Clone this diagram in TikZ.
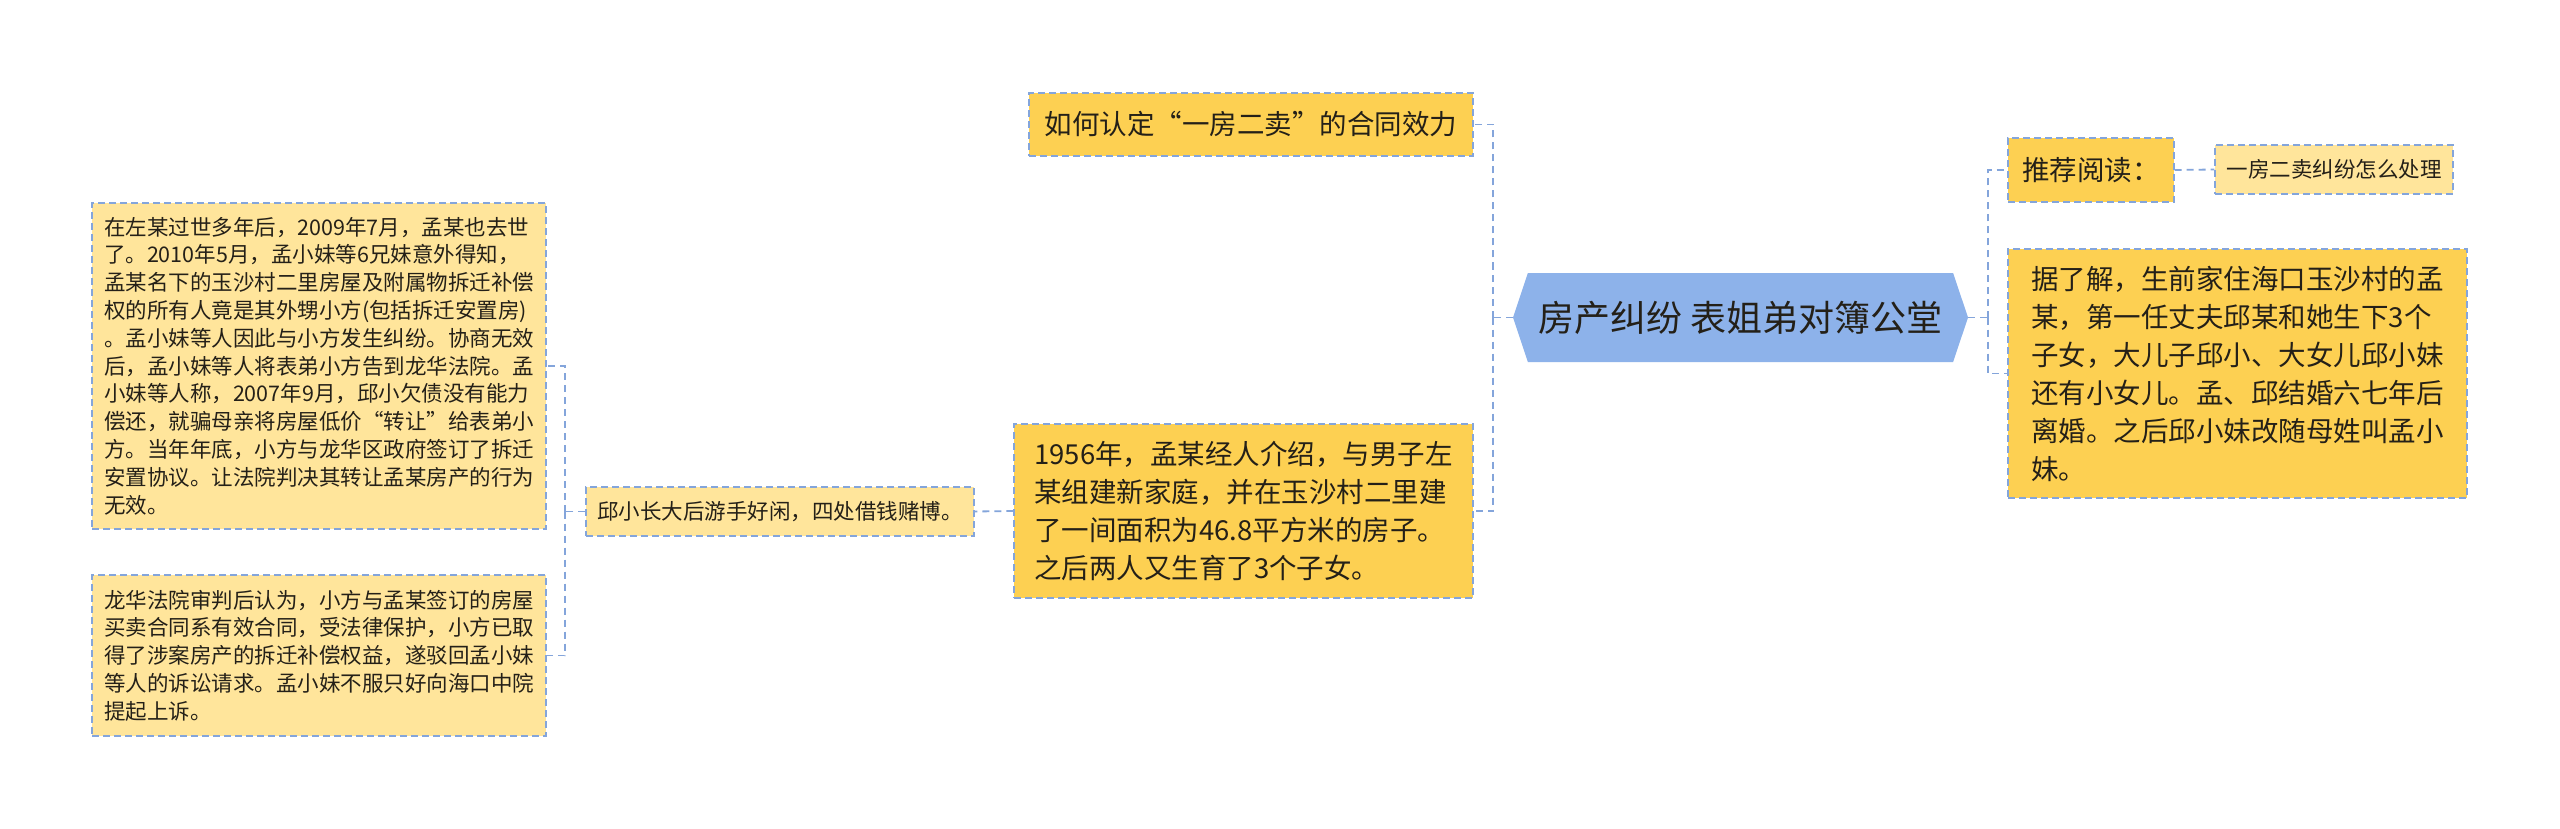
\documentclass[tikz,border=0pt]{standalone}
\usepackage{fontspec}
\setmainfont{Noto Sans CJK SC}
\usetikzlibrary{shapes.symbols}
\definecolor{gold}{RGB}{253,208,82}
\definecolor{pale}{RGB}{255,229,155}
\definecolor{edge}{RGB}{132,165,219}
\definecolor{rootblue}{RGB}{141,178,234}
\definecolor{ink}{RGB}{36,32,24}

\begin{document}
\begin{tikzpicture}[x=1pt,y=-1pt,
  box/.style={draw=edge,line width=1.4pt,dash pattern=on 7pt off 4pt,text=ink,align=left,inner sep=0pt},
  big/.style={box,fill=gold,font=\fontsize{27.5}{38}\selectfont},
  small/.style={box,fill=pale,font=\fontsize{21.5}{27.8}\selectfont},
  conn/.style={draw=edge,line width=1.8pt,dash pattern=on 7pt off 5pt}]
  \useasboundingbox[fill=white](0,0) rectangle (2560,829);
  % centre
  \node[signal,signal to=west and east,signal pointer angle=143,fill=rootblue,text=ink,
        minimum width=455,minimum height=89,inner sep=0pt,font=\fontsize{36}{40}\selectfont]
        (root) at (1740.5,317.5) {房产纠纷 表姐弟对簿公堂};
  % left branch
  \node[big,minimum width=444,minimum height=63] (q1) at (1251,124.5) {如何认定“一房二卖”的合同效力};
  \node[big,minimum width=459,minimum height=174] (story) at (1243.5,511) {1956年，孟某经人介绍，与男子左\\某组建新家庭，并在玉沙村二里建\\了一间面积为46.8平方米的房子。\\之后两人又生育了3个子女。};
  \node[small,minimum width=388,minimum height=49] (qiu) at (780,511.5) {邱小长大后游手好闲，四处借钱赌博。};
  \node[small,minimum width=454,minimum height=326] (sue) at (319,366) {在左某过世多年后，2009年7月，孟某也去世\\了。2010年5月，孟小妹等6兄妹意外得知，\\孟某名下的玉沙村二里房屋及附属物拆迁补偿\\权的所有人竟是其外甥小方(包括拆迁安置房)\\。孟小妹等人因此与小方发生纠纷。协商无效\\后，孟小妹等人将表弟小方告到龙华法院。孟\\小妹等人称，2007年9月，邱小欠债没有能力\\偿还，就骗母亲将房屋低价“转让”给表弟小\\方。当年年底，小方与龙华区政府签订了拆迁\\安置协议。让法院判决其转让孟某房产的行为\\无效。};
  \node[small,minimum width=454,minimum height=161] (ruling) at (319,655.5) {龙华法院审判后认为，小方与孟某签订的房屋\\买卖合同系有效合同，受法律保护，小方已取\\得了涉案房产的拆迁补偿权益，遂驳回孟小妹\\等人的诉讼请求。孟小妹不服只好向海口中院\\提起上诉。};
  % right branch
  \node[big,minimum width=166,minimum height=64] (rec) at (2091,170) {推荐阅读：};
  \node[small,minimum width=238,minimum height=49] (link) at (2334,169.5) {一房二卖纠纷怎么处理};
  \node[big,minimum width=459,minimum height=249] (fact) at (2237.5,373.5) {据了解，生前家住海口玉沙村的孟\\某，第一任丈夫邱某和她生下3个\\子女，大儿子邱小、大女儿邱小妹\\还有小女儿。孟、邱结婚六七年后\\离婚。之后邱小妹改随母姓叫孟小\\妹。};
  % connectors
  \coordinate (lj) at (1493,317.5);
  \coordinate (rj) at (1988,317.5);
  \coordinate (qj) at (565,511.5);
  \draw[conn] (root.west) -- (lj);
  \draw[conn] (lj) |- (q1.east);
  \draw[conn] (lj) |- (story.east);
  \draw[conn] (story.west) -- (qiu.east);
  \draw[conn] (qiu.west) -- (qj);
  \draw[conn] (qj) |- (sue.east);
  \draw[conn] (qj) |- (ruling.east);
  \draw[conn] (root.east) -- (rj);
  \draw[conn] (rj) |- (rec.west);
  \draw[conn] (rj) |- (fact.west);
  \draw[conn] (rec.east) -- (link.west);
\end{tikzpicture}
\end{document}
